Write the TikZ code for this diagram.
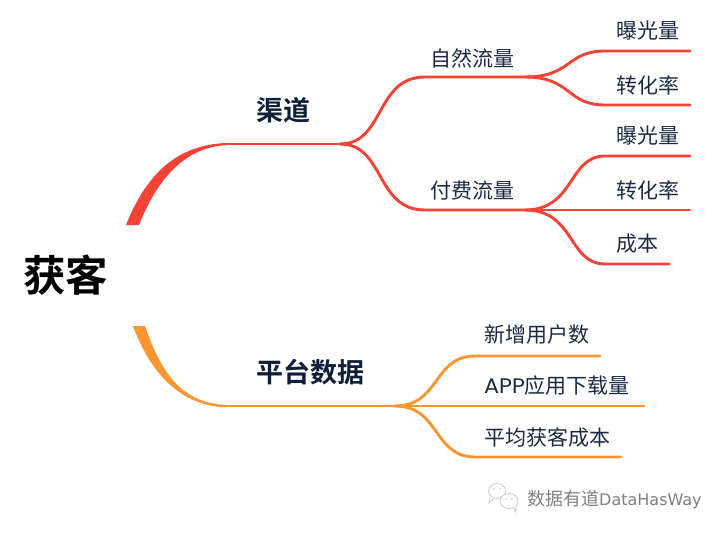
\documentclass[tikz,border=0pt]{standalone}
\usepackage{fontspec}
\setmainfont{Poppins}
\newfontfamily\cjk{Noto Sans CJK SC}
\newfontfamily\cjkb{Noto Sans CJK SC Bold}
\newfontfamily\wm{DejaVu Sans}
\newfontfamily\latinw[FakeStretch=1.06]{Poppins}
\definecolor{redl}{HTML}{F44336}
\definecolor{orgl}{HTML}{FB9530}
\definecolor{ink}{HTML}{1B2A41}
\definecolor{navy}{HTML}{0F1F38}
\tikzset{
  redline/.style={draw=redl,line width=2.9pt,line cap=round},
  orgline/.style={draw=orgl,line width=2.9pt,line cap=round},
  leaf/.style={font=\fontsize{21}{24}\selectfont\cjk,text=ink,anchor=west,inner sep=0pt},
  cat/.style={font=\fontsize{27}{30}\selectfont\cjkb,text=navy,anchor=west,inner sep=0pt},
  wmicon/.style={draw=black!22,line width=.7pt,fill=white},
}
\begin{document}
\begin{tikzpicture}[x=1pt,y=-1pt]
\useasboundingbox (0,0) rectangle (727,533);
% nodes
\node[font=\fontsize{42.5}{46}\selectfont\cjkb,text=black,anchor=west,inner sep=0pt] (root) at (23,275) {获客};
\node[cat] (qudao) at (256,110) {渠道};
\node[cat] (pingtai) at (256,372) {平台数据};
\node[leaf] (ziran) at (430,58) {自然流量};
\node[leaf] (fufei) at (430,190.5) {付费流量};
\node[leaf] (a1) at (616,31) {曝光量};
\node[leaf] (a2) at (616,85) {转化率};
\node[leaf] (b1) at (616,136) {曝光量};
\node[leaf] (b2) at (616,190) {转化率};
\node[leaf] (b3) at (616,244) {成本};
\node[leaf] (c1) at (484,335) {新增用户数};
\node[leaf] (c2) at (484,386) {{\latinw APP}应用下载量};
\node[leaf] (c3) at (484,437) {平均获客成本};
% junctions and line ends
\coordinate (r0) at (222,144);
\coordinate (r1) at (340,144);
\coordinate (zs) at (425,77);
\coordinate (zj) at (525,77);
\coordinate (fs) at (425,210);
\coordinate (fj) at (525,210);
\coordinate (a1s) at (605,51);
\coordinate (a1e) at (690,51);
\coordinate (a2s) at (605,105);
\coordinate (a2e) at (690,105);
\coordinate (b1s) at (605,156);
\coordinate (b1e) at (690,156);
\coordinate (b2e) at (690,210);
\coordinate (b3s) at (605,264);
\coordinate (b3e) at (669,264);
\coordinate (o0) at (222,406);
\coordinate (oj) at (395,406);
\coordinate (c1s) at (475,356);
\coordinate (c1e) at (600,356);
\coordinate (c2e) at (644,406);
\coordinate (c3s) at (475,457);
\coordinate (c3e) at (621,457);
% tapered main branches
\fill[redl] (126,225) .. controls (148,170) and (180,145) .. (226,143)
  -- (226,145.2) .. controls (190,147) and (160,172) .. (139,225) -- cycle;
\fill[orgl] (133,326) .. controls (150,372) and (180,406) .. (226,407.3)
  -- (226,405) .. controls (190,403) and (165,385) .. (145,326) -- cycle;
% red connectors
\draw[redline] (r0) -- (r1);
\draw[redline] (r1) .. controls (385,144) and (375,77) .. (zs) -- (zj);
\draw[redline] (r1) .. controls (385,144) and (375,210) .. (fs) -- (fj);
\draw[redline] (zj) .. controls (572,77) and (566,51) .. (a1s) -- (a1e);
\draw[redline] (zj) .. controls (572,77) and (566,105) .. (a2s) -- (a2e);
\draw[redline] (fj) .. controls (575,210) and (568,156) .. (b1s) -- (b1e);
\draw[redline] (fj) -- (b2e);
\draw[redline] (fj) .. controls (575,210) and (568,264) .. (b3s) -- (b3e);
% orange connectors
\draw[orgline] (o0) -- (oj);
\draw[orgline] (oj) .. controls (440,406) and (433,356) .. (c1s) -- (c1e);
\draw[orgline] (oj) -- (c2e);
\draw[orgline] (oj) .. controls (440,406) and (433,457) .. (c3s) -- (c3e);
% watermark
\draw[wmicon] (497,491) ellipse (8.5 and 7.5);
\draw[wmicon] (490,497) -- (489,503) -- (494,498);
\draw[wmicon] (509,501) ellipse (9 and 7.5);
\draw[wmicon] (513,507) -- (516,512) -- (516,505);
\fill[black!22] (494,489) circle (.9) (500,489) circle (.9) (506,499) circle (.9) (512,499) circle (.9);
\node[font=\fontsize{18}{20}\selectfont\cjk,text=black!50,anchor=west,inner sep=0pt] (wmark) at (527,500) {数据有道{\wm\fontsize{16}{18}\selectfont DataHasWay}};
\end{tikzpicture}
\end{document}
